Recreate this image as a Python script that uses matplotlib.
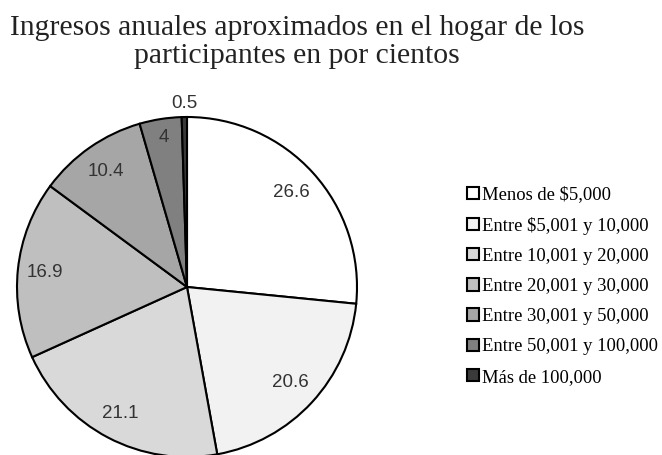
import numpy as np
import matplotlib
matplotlib.use("Agg")
import matplotlib.pyplot as plt

# datos
categorias = ["Menos de $5,000", "Entre $5,001 y 10,000", "Entre 10,001 y 20,000",
              "Entre 20,001 y 30,000", "Entre 30,001 y 50,000", "Entre 50,001 y 100,000",
              "Más de 100,000"]
valores = [26.6, 20.6, 21.1, 16.9, 10.4, 4, 0.5]
etiquetas = ["26.6", "20.6", "21.1", "16.9", "10.4", "4", "0.5"]
colores = ["#ffffff", "#f2f2f2", "#d9d9d9", "#bfbfbf", "#a6a6a6", "#808080", "#3a3a3a"]
dist = [0.83, 0.83, 0.84, 0.84, 0.83, 0.89, 1.08]

W, H = 662, 455
fig = plt.figure(figsize=(W/100, H/100), dpi=100)

# pie: centro (187, 287), radio 170 px
cx, cy, r = 187, 287, 170
ax = fig.add_axes([(cx-r)/W, (H-cy-r)/H, 2*r/W, 2*r/H])
wedges, _ = ax.pie(valores, colors=colores, startangle=90, counterclock=False,
                   wedgeprops=dict(edgecolor="black", linewidth=1.5))
for w in wedges:
    w.set_clip_on(False)
ax.set_xlim(-1, 1)
ax.set_ylim(-1, 1)
ax.set_aspect("equal")
ax.axis("off")

for w, lab, d in zip(wedges, etiquetas, dist):
    ang = np.deg2rad((w.theta1 + w.theta2) / 2)
    ax.text(d*np.cos(ang), d*np.sin(ang), lab, ha="center", va="center",
            fontsize=13.5, color="#333333", family="Liberation Sans")

fig.text(297/W, 1 - 42/H, "Ingresos anuales aproximados en el hogar de los\nparticipantes en por cientos",
         ha="center", va="center", fontsize=21.3, family="Liberation Serif",
         linespacing=1.12, color="#222222")

fig.legend(wedges, categorias, loc="center left", bbox_to_anchor=(467/W, 1 - 286/H),
           frameon=False, prop=dict(family="Liberation Serif", size=13.4),
           handlelength=0.65, handleheight=0.65, handletextpad=0.15,
           labelspacing=0.71, borderpad=0, borderaxespad=0)

fig.savefig("out.png", dpi=100)
